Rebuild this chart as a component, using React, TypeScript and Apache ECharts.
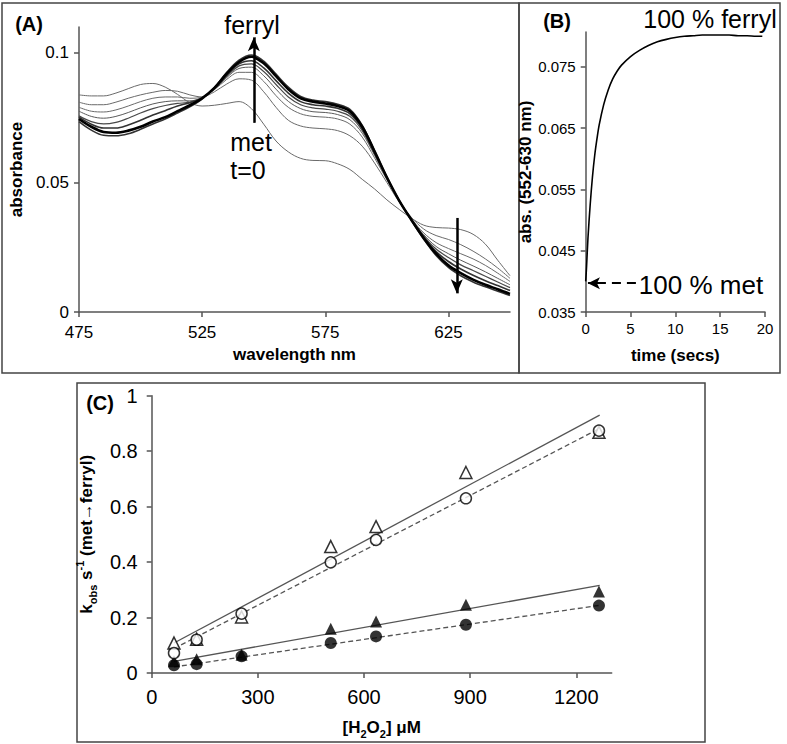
import React, { useEffect, useRef } from 'react';
import * as echarts from 'echarts';

const FONT = '"Liberation Sans", Arial, sans-serif';

// ---------- Panel A: spectra ----------
const wavelengths = [475, 480, 485, 490, 495, 500, 505, 510, 515, 520, 525, 530, 535, 540, 545, 550, 555, 560, 565, 570, 575, 580, 585, 590, 595, 600, 605, 610, 615, 620, 625, 630, 635, 640, 645, 650];
const specMet = [0.0838, 0.0834, 0.0834, 0.0845, 0.0862, 0.0878, 0.0882, 0.0868, 0.0840, 0.0808, 0.0795, 0.0798, 0.0805, 0.0812, 0.0785, 0.0725, 0.0660, 0.0618, 0.0593, 0.0585, 0.0584, 0.0572, 0.0550, 0.0512, 0.0475, 0.0433, 0.0396, 0.0362, 0.0335, 0.0326, 0.0324, 0.0318, 0.0300, 0.0262, 0.0200, 0.0140];
const spec1 = [0.0810, 0.0800, 0.0800, 0.0810, 0.0825, 0.0838, 0.0848, 0.0855, 0.0852, 0.0838, 0.0830, 0.0850, 0.0880, 0.0900, 0.0895, 0.0850, 0.0790, 0.0740, 0.0718, 0.0710, 0.0707, 0.0700, 0.0680, 0.0640, 0.0575, 0.0500, 0.0425, 0.0365, 0.0320, 0.0295, 0.0280, 0.0260, 0.0235, 0.0205, 0.0170, 0.0130];
const spec2 = [0.0790, 0.0775, 0.0772, 0.0780, 0.0795, 0.0812, 0.0825, 0.0830, 0.0830, 0.0825, 0.0830, 0.0858, 0.0898, 0.0925, 0.0925, 0.0890, 0.0835, 0.0790, 0.0765, 0.0755, 0.0752, 0.0745, 0.0725, 0.0675, 0.0595, 0.0510, 0.0428, 0.0360, 0.0305, 0.0268, 0.0245, 0.0225, 0.0205, 0.0180, 0.0150, 0.0118];
const spec3 = [0.0775, 0.0755, 0.0748, 0.0755, 0.0770, 0.0788, 0.0803, 0.0812, 0.0815, 0.0815, 0.0828, 0.0860, 0.0905, 0.0940, 0.0945, 0.0912, 0.0860, 0.0813, 0.0785, 0.0773, 0.0770, 0.0762, 0.0742, 0.0690, 0.0605, 0.0515, 0.0430, 0.0358, 0.0298, 0.0253, 0.0225, 0.0200, 0.0178, 0.0155, 0.0130, 0.0105];
const spec4 = [0.0757, 0.0735, 0.0726, 0.0732, 0.0748, 0.0768, 0.0785, 0.0797, 0.0805, 0.0810, 0.0826, 0.0862, 0.0910, 0.0950, 0.0958, 0.0928, 0.0878, 0.0830, 0.0800, 0.0788, 0.0783, 0.0775, 0.0755, 0.0700, 0.0610, 0.0518, 0.0430, 0.0357, 0.0293, 0.0243, 0.0210, 0.0182, 0.0160, 0.0138, 0.0116, 0.0094];
const spec5 = [0.0752, 0.0725, 0.0710, 0.0710, 0.0722, 0.0740, 0.0760, 0.0777, 0.0795, 0.0808, 0.0826, 0.0863, 0.0915, 0.0958, 0.0970, 0.0942, 0.0893, 0.0845, 0.0812, 0.0800, 0.0795, 0.0786, 0.0765, 0.0708, 0.0615, 0.0519, 0.0430, 0.0356, 0.0289, 0.0233, 0.0195, 0.0166, 0.0142, 0.0121, 0.0102, 0.0083];
const spec6 = [0.0735, 0.0702, 0.0682, 0.0680, 0.0688, 0.0705, 0.0726, 0.0745, 0.0768, 0.0792, 0.0822, 0.0866, 0.0925, 0.0972, 0.0992, 0.0968, 0.0918, 0.0868, 0.0832, 0.0818, 0.0812, 0.0802, 0.0782, 0.0720, 0.0622, 0.0521, 0.0430, 0.0353, 0.0281, 0.0218, 0.0172, 0.0140, 0.0116, 0.0097, 0.0080, 0.0064];
const specFerryl = [0.0745, 0.0715, 0.0695, 0.0692, 0.0700, 0.0715, 0.0735, 0.0752, 0.0775, 0.0798, 0.0825, 0.0865, 0.0920, 0.0965, 0.0985, 0.0960, 0.0910, 0.0860, 0.0825, 0.0812, 0.0805, 0.0795, 0.0775, 0.0715, 0.0620, 0.0520, 0.0430, 0.0355, 0.0285, 0.0225, 0.0180, 0.0150, 0.0125, 0.0105, 0.0088, 0.0070];
const arrowUp = { x: 546, from: 0.073, to: 0.106 };
const arrowDown = { x: 628.4, from: 0.0363, to: 0.0072 };

// ---------- Panel B: kinetic trace ----------
const kinTime = [0, 0.1, 0.25, 0.5, 0.75, 1.0, 1.25, 1.5, 2.0, 2.5, 3.0, 3.5, 4.0, 5.0, 6.0, 7.0, 8.0, 9.0, 10.0, 11, 12, 13, 14, 15, 16, 17, 18, 19, 19.7];
const kinAbs = [0.0400, 0.0425, 0.0470, 0.0525, 0.0570, 0.0605, 0.0632, 0.0655, 0.0688, 0.0712, 0.0730, 0.0743, 0.0753, 0.0767, 0.0777, 0.0785, 0.0791, 0.0795, 0.0798, 0.0800, 0.0801, 0.0802, 0.0802, 0.0802, 0.0802, 0.0801, 0.0801, 0.0800, 0.0800];
const metArrow = { from: 5.6, to: 0.25, y: 0.0397 };

// ---------- Panel C: kobs vs [H2O2] ----------
const h2o2 = [63, 127, 254, 506, 634, 888, 1264];
const openTriangle = [0.108, 0.122, 0.202, 0.456, 0.528, 0.723, 0.868];
const openCircle = [0.072, 0.120, 0.214, 0.399, 0.480, 0.630, 0.874];
const filledTriangle = [0.042, 0.050, 0.066, 0.160, 0.186, 0.246, 0.294];
const filledCircle = [0.028, 0.032, 0.060, 0.108, 0.132, 0.174, 0.243];
const fitX = [63, 1266];
const fitOpenTriangle = [0.108, 0.930];
const fitOpenCircle = [0.088, 0.882];
const fitFilledTriangle = [0.042, 0.316];
const fitFilledCircle = [0.022, 0.244];

const pairs = (xs: number[], ys: number[]) => xs.map((x, i) => [x, ys[i]]);

export default function App() {
  const ref = useRef<HTMLDivElement>(null);
  useEffect(() => {
    if (!ref.current) return;
    const chart = echarts.init(ref.current, undefined, { renderer: 'svg' });
    const axisLine = { show: true, lineStyle: { color: '#555', width: 1.5 } };
    const axisTick = { show: true, length: 5, lineStyle: { color: '#555', width: 1.5 } };
    const nameStyleBold = (size: number) => ({ fontFamily: FONT, fontWeight: 'bold' as const, fontSize: size, color: '#000' });

    const specLine = (data: number[], color: string, width: number, z = 2) => ({
      type: 'line', xAxisIndex: 0, yAxisIndex: 0, data: pairs(wavelengths, data), showSymbol: false,
      smooth: 0.35, lineStyle: { color, width }, z, silent: true,
    });

    const option: any = {
      animation: false,
      grid: [
        { left: 77, right: 277, top: 27, bottom: 432 },
        { left: 585.7, right: 22, top: 32, bottom: 432 },
        { left: 151.7, right: 175.3, top: 395.7, bottom: 71 },
      ],
      xAxis: [
        {
          gridIndex: 0, type: 'value', min: 475, max: 650, interval: 50,
          axisLine, axisTick, splitLine: { show: false },
          axisLabel: { fontFamily: FONT, fontSize: 17, color: '#000', margin: 12, showMaxLabel: false },
          name: 'wavelength nm', nameLocation: 'middle', nameGap: 34, nameTextStyle: nameStyleBold(17),
        },
        {
          gridIndex: 1, type: 'value', min: 0, max: 20, interval: 5,
          axisLine, axisTick, splitLine: { show: false },
          axisLabel: { fontFamily: FONT, fontSize: 15, color: '#000', margin: 9 },
          name: 'time (secs)', nameLocation: 'middle', nameGap: 35, nameTextStyle: nameStyleBold(17),
        },
        {
          gridIndex: 2, type: 'value', min: 0, max: 1300, interval: 300,
          axisLine, axisTick, splitLine: { show: false },
          axisLabel: { fontFamily: FONT, fontSize: 20, color: '#000', margin: 14, showMaxLabel: false, formatter: (v: number) => String(v) },
          name: '{n|[H}{sub|2}{n|O}{sub|2}{n|] μM}', nameLocation: 'middle', nameGap: 42,
          nameTextStyle: {
            ...nameStyleBold(17),
            rich: {
              n: { fontFamily: FONT, fontWeight: 'bold', fontSize: 17, color: '#000', lineHeight: 24, verticalAlign: 'middle' },
              sub: { fontFamily: FONT, fontWeight: 'bold', fontSize: 11, color: '#000', lineHeight: 12, verticalAlign: 'bottom' },
            },
          },
        },
      ],
      yAxis: [
        {
          gridIndex: 0, type: 'value', min: 0, max: 0.11, interval: 0.05,
          axisLine, axisTick, splitLine: { show: false },
          axisLabel: { fontFamily: FONT, fontSize: 17, color: '#000', margin: 10, showMaxLabel: false },
          name: 'absorbance', nameLocation: 'middle', nameGap: 52, nameTextStyle: nameStyleBold(17),
        },
        {
          gridIndex: 1, type: 'value', min: 0.035, max: 0.0807, interval: 0.01,
          axisLine, axisTick, splitLine: { show: false },
          axisLabel: { fontFamily: FONT, fontSize: 15, color: '#000', margin: 10, showMaxLabel: false, formatter: (v: number) => v.toFixed(3) },
          name: 'abs. (552-630 nm)', nameLocation: 'middle', nameGap: 48, nameTextStyle: nameStyleBold(17),
        },
        {
          gridIndex: 2, type: 'value', min: 0, max: 1, interval: 0.2,
          axisLine, axisTick, splitLine: { show: false },
          axisLabel: { fontFamily: FONT, fontSize: 20, color: '#000', margin: 14 },
          name: '{n|k}{sub|obs}{n| s}{sup|-1}{n| (met→ferryl)}', nameLocation: 'middle', nameGap: 51,
          nameTextStyle: {
            ...nameStyleBold(17),
            rich: {
              n: { fontFamily: FONT, fontWeight: 'bold', fontSize: 17, color: '#000', lineHeight: 24, verticalAlign: 'middle' },
              sub: { fontFamily: FONT, fontWeight: 'bold', fontSize: 11, color: '#000', lineHeight: 12, verticalAlign: 'bottom' },
              sup: { fontFamily: FONT, fontWeight: 'bold', fontSize: 11, color: '#000', lineHeight: 12, verticalAlign: 'top' },
            },
          },
        },
      ],
      series: [
        specLine(specMet, '#6a6a6a', 1),
        specLine(spec1, '#6a6a6a', 1),
        specLine(spec2, '#6a6a6a', 1),
        specLine(spec3, '#5a5a5a', 1),
        specLine(spec4, '#4a4a4a', 1.2),
        specLine(spec5, '#333', 1.6, 3),
        specLine(spec6, '#333', 1.6, 3),
        {
          ...specLine(specFerryl, '#000', 2.6, 4),
          markLine: {
            silent: true, symbol: ['none', 'arrow'], symbolSize: [9, 14], precision: 4,
            lineStyle: { color: '#000', width: 2.5, type: 'solid' }, label: { show: false },
            data: [
              [{ coord: [arrowUp.x, arrowUp.from] }, { coord: [arrowUp.x, arrowUp.to] }],
              [{ coord: [arrowDown.x, arrowDown.from] }, { coord: [arrowDown.x, arrowDown.to] }],
            ],
          },
        },
        {
          type: 'line', xAxisIndex: 1, yAxisIndex: 1, data: pairs(kinTime, kinAbs), showSymbol: false,
          smooth: 0.3, lineStyle: { color: '#000', width: 1.6 }, silent: true,
          markLine: {
            silent: true, symbol: ['none', 'arrow'], symbolSize: [9, 12], precision: 4,
            lineStyle: { color: '#000', width: 2, type: [9, 6] }, label: { show: false },
            data: [[{ coord: [metArrow.from, metArrow.y] }, { coord: [metArrow.to, metArrow.y] }]],
          },
        },
        // fit lines
        { type: 'line', xAxisIndex: 2, yAxisIndex: 2, data: pairs(fitX, fitOpenTriangle), showSymbol: false, lineStyle: { color: '#555', width: 1.3 }, z: 1, silent: true },
        { type: 'line', xAxisIndex: 2, yAxisIndex: 2, data: pairs(fitX, fitOpenCircle), showSymbol: false, lineStyle: { color: '#555', width: 1.3, type: [5, 3] }, z: 1, silent: true },
        { type: 'line', xAxisIndex: 2, yAxisIndex: 2, data: pairs(fitX, fitFilledTriangle), showSymbol: false, lineStyle: { color: '#555', width: 1.3 }, z: 1, silent: true },
        { type: 'line', xAxisIndex: 2, yAxisIndex: 2, data: pairs(fitX, fitFilledCircle), showSymbol: false, lineStyle: { color: '#555', width: 1.3, type: [5, 3] }, z: 1, silent: true },
        // markers
        { type: 'scatter', xAxisIndex: 2, yAxisIndex: 2, data: pairs(h2o2, openTriangle), symbol: 'triangle', symbolSize: 12, itemStyle: { color: '#fff', borderColor: '#000', borderWidth: 1.5 }, z: 3, silent: true },
        { type: 'scatter', xAxisIndex: 2, yAxisIndex: 2, data: pairs(h2o2, openCircle), symbol: 'circle', symbolSize: 11, itemStyle: { color: '#fff', borderColor: '#000', borderWidth: 1.5 }, z: 4, silent: true },
        { type: 'scatter', xAxisIndex: 2, yAxisIndex: 2, data: pairs(h2o2, filledTriangle), symbol: 'triangle', symbolSize: 12, itemStyle: { color: '#000' }, z: 3, silent: true },
        { type: 'scatter', xAxisIndex: 2, yAxisIndex: 2, data: pairs(h2o2, filledCircle), symbol: 'circle', symbolSize: 12, itemStyle: { color: '#000' }, z: 4, silent: true },
      ],
      graphic: [
        { type: 'rect', shape: { x: 2, y: 3, width: 517, height: 370 }, style: { fill: 'none', stroke: '#444', lineWidth: 1.5 }, silent: true },
        { type: 'rect', shape: { x: 519, y: 3, width: 261, height: 370 }, style: { fill: 'none', stroke: '#444', lineWidth: 1.5 }, silent: true },
        { type: 'rect', shape: { x: 77, y: 383, width: 628, height: 359 }, style: { fill: 'none', stroke: '#444', lineWidth: 1.5 }, silent: true },
        { type: 'text', x: 29, y: 24, style: { text: '(A)', font: `bold 20px ${FONT}`, fill: '#000', align: 'center', verticalAlign: 'middle' } },
        { type: 'text', x: 557, y: 21, style: { text: '(B)', font: `bold 20px ${FONT}`, fill: '#000', align: 'center', verticalAlign: 'middle' } },
        { type: 'text', x: 100, y: 403, style: { text: '(C)', font: `bold 20px ${FONT}`, fill: '#000', align: 'center', verticalAlign: 'middle' } },
        { type: 'text', x: 252, y: 25, style: { text: 'ferryl', font: `25px ${FONT}`, fill: '#000', align: 'center', verticalAlign: 'middle' } },
        { type: 'text', x: 251, y: 142, style: { text: 'met', font: `25px ${FONT}`, fill: '#000', align: 'center', verticalAlign: 'middle' } },
        { type: 'text', x: 248, y: 170, style: { text: 't=0', font: `25px ${FONT}`, fill: '#000', align: 'center', verticalAlign: 'middle' } },
        { type: 'text', x: 710, y: 19, style: { text: '100 % ferryl', font: `25px ${FONT}`, fill: '#000', align: 'center', verticalAlign: 'middle' } },
        { type: 'text', x: 701, y: 285, style: { text: '100 % met', font: `26px ${FONT}`, fill: '#000', align: 'center', verticalAlign: 'middle' } },
      ],
    };
    chart.setOption(option);
    return () => chart.dispose();
  }, []);
  return <div ref={ref} style={{ position: 'fixed', left: 0, top: 0, width: 787, height: 744, background: '#fff' }} />;
}
